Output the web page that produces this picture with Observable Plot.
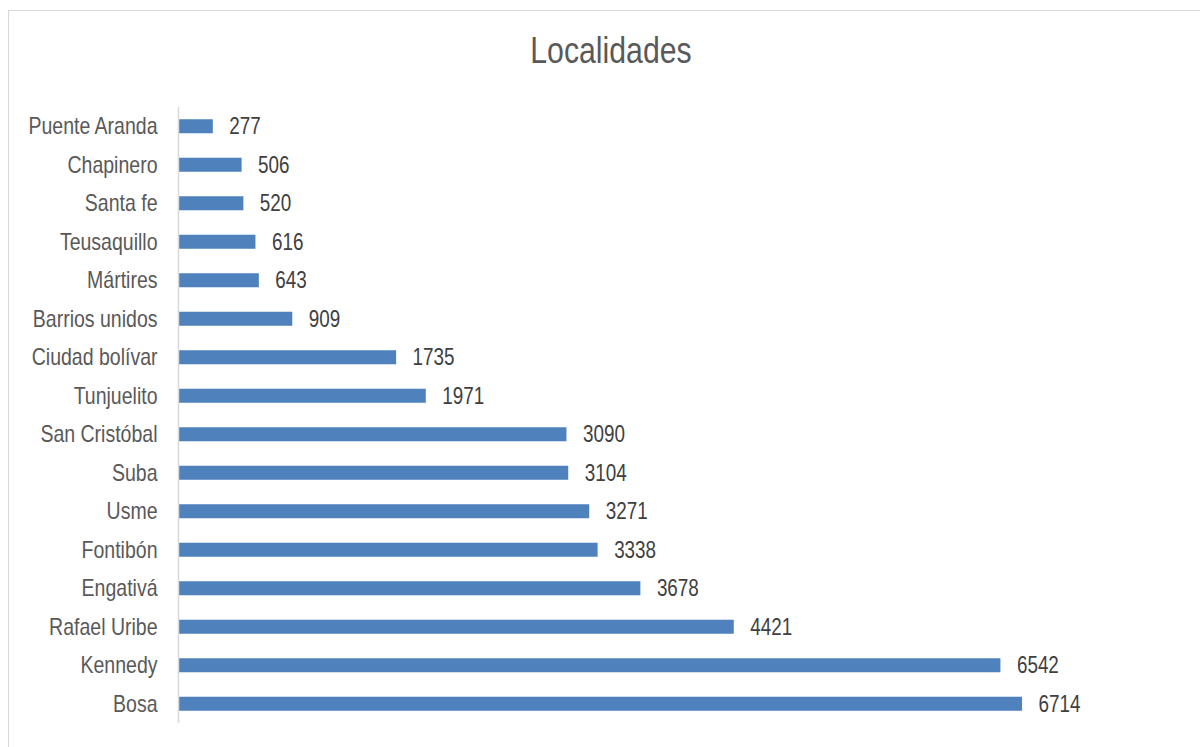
<!DOCTYPE html>
<html>
<head>
<meta charset="utf-8">
<script src="https://cdn.jsdelivr.net/npm/d3@7"></script>
<script src="https://cdn.jsdelivr.net/npm/@observablehq/plot@0.6"></script>
<style>
  html, body { margin: 0; padding: 0; background: #fff; }
  #wrap { position: relative; width: 1200px; height: 747px; overflow: hidden; }
  #frame { position: absolute; left: 8px; top: 10px; width: 1200px; height: 760px; border: 1.5px solid #d9d9d9; box-sizing: border-box; }
  #title { position: absolute; left: 0; top: 29px; width: 1222px; text-align: center;
    font-family: "Liberation Sans", Arial, sans-serif;
    font-size: 36px; color: #595959; line-height: 44px; transform: scaleX(0.84); transform-origin: 611px 0; }
  #chart { position: absolute; left: 0; top: 90px; }
</style>
</head>
<body>
<div id="wrap">
  <div id="frame"></div>
  <div id="title">Localidades</div>
  <div id="chart"></div>
</div>
<script>
const localidades = ["Puente Aranda","Chapinero","Santa fe","Teusaquillo","Mártires","Barrios unidos","Ciudad bolívar","Tunjuelito","San Cristóbal","Suba","Usme","Fontibón","Engativá","Rafael Uribe","Kennedy","Bosa"];
const valores = [277,506,520,616,643,909,1735,1971,3090,3104,3271,3338,3678,4421,6542,6714];

const data = localidades.map((d, i) => ({localidad: d, valor: valores[i]}));
const font = '"Liberation Sans", Arial, sans-serif';

const chart = Plot.plot({
  width: 1200,
  height: 650,
  marginTop: 17,
  marginBottom: 17,
  marginLeft: 178,
  marginRight: 142,
  style: {fontFamily: font, background: "transparent"},
  x: {domain: [0, 7000], axis: null},
  y: {domain: localidades, paddingInner: 0.636, paddingOuter: 0.318, round: false, label: null},
  marks: [
    Plot.barX(data, {y: "localidad", x: "valor", fill: "#4f81bd"}),
    Plot.ruleX([0], {stroke: "#d9d9d9", strokeWidth: 1.5}),
    Plot.text(data, {y: "localidad", x: "valor", text: d => String(d.valor), textAnchor: "start", dx: 16, fontSize: 23, fill: "#404040"}),
    Plot.axisY({tickSize: 0, tickPadding: 21, fontSize: 23.8, color: "#595959", label: null})
  ]
});
// narrow the Arial-metric glyphs to match the condensed typeface of the original
chart.querySelectorAll("text").forEach(t => {
  const tr = t.getAttribute("transform");
  if (tr) t.setAttribute("transform", tr + " scale(0.82,1)");
});
document.getElementById("chart").appendChild(chart);
</script>
</body>
</html>
